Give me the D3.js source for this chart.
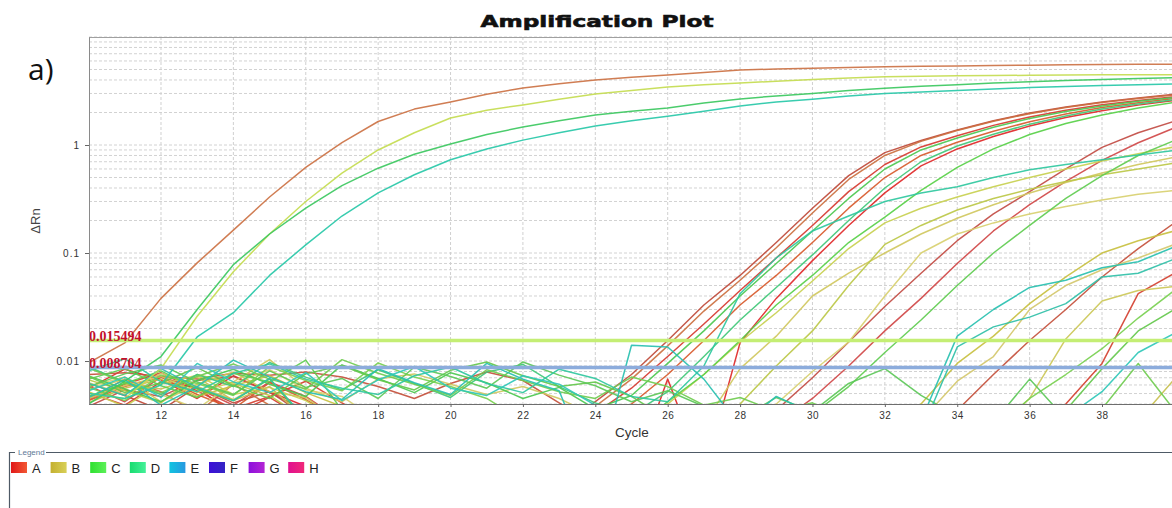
<!DOCTYPE html>
<html>
<head>
<meta charset="utf-8">
<script src="https://d3js.org/d3.v7.min.js"></script>
<style>
  html, body { margin: 0; padding: 0; background: #fff; }
  svg { display: block; }
</style>
</head>
<body>
<svg id="chart" width="1172" height="508"></svg>
<script>
// ---- data ----------------------------------------------------------------
const cycles = [10,11,12,13,14,15,16,17,18,19,20,21,22,23,24,25,26,27,28,29,30,31,32,33,34,35,36,37,38,39,40];
const xTickValues = [12,14,16,18,20,22,24,26,28,30,32,34,36,38];
const yTickValues = [0.01, 0.1, 1];
const thresholds = [0.015494, 0.008704];
const legendNames = ["A","B","C","D","E","F","G","H"];

// group A wells (red / brown)
const a1  = [0.0096,0.0147,0.038,0.081,0.163,0.33,0.62,1.05,1.65,2.15,2.5,2.95,3.37,3.7,4.0,4.25,4.45,4.7,4.95,5.05,5.15,5.22,5.3,5.35,5.4,5.45,5.48,5.52,5.55,5.58,5.6];
const a2  = [0.0062,0.0048,0.0035,0.0058,0.0041,0.0052,0.0031,0.0026,0.0022,0.0028,0.0024,0.0021,0.0027,0.0025,0.0042,0.0075,0.0155,0.033,0.062,0.125,0.26,0.52,0.85,1.1,1.38,1.68,1.98,2.25,2.5,2.72,2.95];
const a3  = [0.0045,0.0068,0.0052,0.0033,0.0061,0.0039,0.0027,0.0023,0.0029,0.0022,0.0026,0.0021,0.0024,0.0028,0.0038,0.0068,0.0138,0.029,0.056,0.112,0.235,0.48,0.8,1.08,1.36,1.66,1.95,2.22,2.47,2.7,2.9];
const a4  = [0.0051,0.0039,0.0064,0.0057,0.0032,0.0046,0.0029,0.0024,0.0021,0.0027,0.0023,0.0025,0.0022,0.0026,0.0033,0.0056,0.011,0.022,0.045,0.09,0.18,0.37,0.66,0.96,1.22,1.52,1.82,2.1,2.36,2.58,2.8];
const a5  = [0.0043,0.0058,0.0071,0.0049,0.0036,0.0063,0.0044,0.0028,0.0023,0.0026,0.0021,0.0025,0.0022,0.0027,0.0024,0.004,0.0075,0.0155,0.033,0.062,0.125,0.26,0.5,0.8,1.06,1.34,1.64,1.94,2.22,2.46,2.7];
const a6  = [0.0056,0.0084,0.0067,0.0045,0.0073,0.0052,0.0038,0.0029,0.0024,0.0021,0.0025,0.0022,0.0023,0.0021,0.0019,0.0008,0.0068,0.0009,0.0148,0.038,0.085,0.18,0.36,0.64,0.92,1.2,1.5,1.8,2.08,2.34,2.58];
const a7  = [0.0038,0.0054,0.0047,0.0066,0.0072,0.0051,0.0035,0.0026,0.0022,0.0025,0.0021,0.0024,0.0022,0.0027,0.0023,0.0021,0.0024,0.0022,0.0024,0.0035,0.007,0.015,0.032,0.065,0.13,0.23,0.37,0.6,0.95,1.3,1.66];
const a8  = [0.0059,0.0042,0.0071,0.0056,0.0039,0.0064,0.0047,0.0028,0.0023,0.0021,0.0025,0.0022,0.0026,0.0021,0.0024,0.0022,0.0025,0.0021,0.0023,0.0026,0.0045,0.009,0.019,0.038,0.08,0.16,0.28,0.46,0.72,1.05,1.44];
const a9  = [0.0075,0.0078,0.0072,0.0068,0.0077,0.0074,0.0079,0.0071,0.0058,0.0045,0.0062,0.0079,0.0066,0.0041,0.0026,0.0022,0.0024,0.0021,0.0023,0.0022,0.0025,0.0021,0.0024,0.0023,0.0035,0.0075,0.0155,0.03,0.06,0.11,0.19];
const a10 = [0.0044,0.0061,0.0078,0.0053,0.0036,0.0047,0.0065,0.0041,0.0026,0.0022,0.0025,0.0021,0.0024,0.0022,0.0026,0.0023,0.0021,0.0025,0.0022,0.0024,0.0021,0.0023,0.0022,0.0025,0.0021,0.0024,0.0023,0.004,0.0095,0.042,0.065];

// group B wells (yellow / olive)
const b1 = [0.005,0.0045,0.0085,0.026,0.067,0.15,0.30,0.55,0.9,1.3,1.78,2.1,2.35,2.65,2.96,3.2,3.45,3.62,3.75,3.9,4.05,4.18,4.28,4.33,4.37,4.4,4.42,4.44,4.46,4.47,4.48];
const b2 = [0.0052,0.0038,0.0061,0.0074,0.0049,0.0057,0.0043,0.0027,0.0023,0.0026,0.0022,0.0025,0.0021,0.0024,0.0022,0.0026,0.004,0.0075,0.015,0.028,0.055,0.11,0.19,0.26,0.33,0.41,0.5,0.6,0.71,0.83,0.96];
const b3 = [0.0045,0.0059,0.0072,0.0051,0.0064,0.0103,0.0056,0.0042,0.0068,0.0076,0.0061,0.0049,0.0058,0.0045,0.0031,0.0027,0.0023,0.0026,0.0085,0.017,0.04,0.065,0.1,0.15,0.21,0.28,0.36,0.45,0.55,0.66,0.77];
const b4 = [0.0067,0.0053,0.0041,0.0075,0.0062,0.0048,0.0029,0.0024,0.0022,0.0026,0.0021,0.0025,0.0023,0.0022,0.0026,0.0021,0.0024,0.0022,0.004,0.009,0.019,0.05,0.12,0.18,0.25,0.32,0.39,0.46,0.53,0.6,0.68];
const b5 = [0.0058,0.0071,0.0049,0.0036,0.0062,0.0083,0.0054,0.0047,0.0028,0.0023,0.0021,0.0025,0.0022,0.0024,0.0021,0.0023,0.0026,0.0022,0.0024,0.004,0.008,0.015,0.04,0.1,0.15,0.19,0.23,0.27,0.31,0.35,0.38];
const b6 = [0.0041,0.0056,0.0068,0.0047,0.0059,0.0073,0.0051,0.0038,0.0026,0.0022,0.0025,0.0021,0.0023,0.0026,0.0022,0.0024,0.0021,0.0025,0.0022,0.0024,0.0021,0.0023,0.0026,0.004,0.0095,0.017,0.034,0.06,0.1,0.13,0.16];
const b7 = [0.0063,0.0049,0.0077,0.0058,0.0044,0.0069,0.0029,0.0024,0.0022,0.0026,0.0023,0.0021,0.0025,0.0022,0.0024,0.0021,0.0023,0.0026,0.0022,0.0024,0.0021,0.0023,0.0022,0.0028,0.0065,0.011,0.03,0.05,0.07,0.09,0.12];
const b8 = [0.0054,0.0068,0.0042,0.0061,0.0079,0.0052,0.0046,0.0027,0.0023,0.0025,0.0021,0.0024,0.0022,0.0026,0.0021,0.0023,0.0025,0.0022,0.0024,0.0021,0.0023,0.0022,0.0025,0.0021,0.0024,0.0022,0.0045,0.016,0.036,0.045,0.049];
const b9 = [0.0047,0.0062,0.0055,0.0071,0.0043,0.0058,0.0029,0.0024,0.0022,0.0026,0.0021,0.0025,0.0023,0.0022,0.0026,0.0021,0.0024,0.0022,0.0025,0.0021,0.0023,0.0026,0.0022,0.0024,0.0021,0.0023,0.0022,0.0025,0.0024,0.0028,0.0068];

// group C wells (green)
const c1 = [0.004,0.0065,0.011,0.03,0.078,0.15,0.26,0.42,0.61,0.82,1.02,1.25,1.47,1.68,1.9,2.05,2.2,2.45,2.67,2.85,3.0,3.2,3.35,3.5,3.62,3.75,3.85,3.95,4.05,4.12,4.2];
const c2 = [0.0073,0.0055,0.0042,0.0066,0.0084,0.0061,0.0047,0.0092,0.0069,0.0051,0.0078,0.0063,0.0045,0.0057,0.0036,0.0048,0.0095,0.019,0.04,0.08,0.16,0.32,0.6,0.9,1.16,1.46,1.76,2.04,2.3,2.54,2.76];
const c3 = [0.0088,0.0064,0.0049,0.0075,0.0058,0.0097,0.0071,0.0054,0.0083,0.0062,0.0046,0.0079,0.0093,0.0058,0.0041,0.0032,0.0052,0.011,0.024,0.048,0.096,0.2,0.4,0.7,0.98,1.26,1.56,1.86,2.15,2.4,2.62];
const c4 = [0.0047,0.0062,0.0081,0.0055,0.0043,0.0068,0.0028,0.0023,0.0026,0.0021,0.0025,0.0022,0.0024,0.0021,0.0026,0.0023,0.0042,0.0075,0.0155,0.033,0.062,0.125,0.215,0.38,0.62,0.92,1.25,1.58,1.9,2.2,2.48];
const c5 = [0.0068,0.0085,0.0059,0.0046,0.0077,0.0064,0.0102,0.0035,0.0024,0.0022,0.0026,0.0021,0.0025,0.0022,0.0024,0.0021,0.0023,0.0026,0.0022,0.0024,0.0032,0.0058,0.012,0.024,0.05,0.1,0.18,0.32,0.52,0.8,1.1];
const c6 = [0.0057,0.0043,0.0074,0.0062,0.0048,0.0089,0.0066,0.0053,0.0096,0.0071,0.0058,0.0045,0.0028,0.0023,0.0025,0.0021,0.0024,0.0022,0.0026,0.0021,0.0023,0.0025,0.0022,0.0024,0.0021,0.0023,0.0045,0.0075,0.013,0.025,0.045];
const c7 = [0.0072,0.0051,0.0063,0.0087,0.0059,0.0045,0.0076,0.0091,0.0067,0.0054,0.0082,0.0098,0.0073,0.0058,0.0064,0.0047,0.0029,0.0023,0.0021,0.0025,0.0022,0.0024,0.0021,0.0023,0.0022,0.0025,0.0023,0.0035,0.0085,0.019,0.03];
const c8 = [0.0086,0.0063,0.0051,0.0072,0.0094,0.0068,0.0055,0.0103,0.0077,0.0061,0.0048,0.0083,0.0066,0.0052,0.0045,0.0071,0.0058,0.0039,0.0046,0.0034,0.0041,0.0029,0.0036,0.0027,0.0032,0.0025,0.0029,0.0024,0.0036,0.0095,0.0035];
const c9 = [0.0058,0.0076,0.0092,0.0064,0.0049,0.0081,0.0057,0.0069,0.0045,0.0088,0.0072,0.0056,0.0098,0.0074,0.0059,0.0042,0.0053,0.0038,0.0029,0.0046,0.0034,0.0062,0.0085,0.0048,0.0031,0.0027,0.0068,0.0029,0.0024,0.0022,0.0021];

// group D / E wells (teal / cyan)
const t1 = [0.005,0.0045,0.006,0.0167,0.028,0.062,0.119,0.22,0.36,0.53,0.73,0.92,1.11,1.3,1.5,1.68,1.85,2.05,2.3,2.5,2.65,2.85,3.0,3.1,3.2,3.3,3.4,3.48,3.55,3.62,3.67];
const t2 = [0.0081,0.0105,0.0064,0.0052,0.0077,0.0094,0.0068,0.0056,0.0049,0.0073,0.0088,0.0062,0.0051,0.0084,0.0069,0.0047,0.0042,0.009,0.042,0.09,0.16,0.22,0.3,0.36,0.41,0.5,0.59,0.66,0.73,0.81,0.89];
const t3 = [0.0046,0.0067,0.0039,0.0058,0.0102,0.0071,0.0052,0.0044,0.0085,0.0063,0.0049,0.0095,0.0068,0.0053,0.0008,0.014,0.0135,0.0068,0.0025,0.0047,0.0033,0.0029,0.0024,0.0028,0.017,0.03,0.048,0.056,0.073,0.083,0.114];
const t4 = [0.0062,0.0048,0.0085,0.0057,0.0043,0.0069,0.0029,0.0024,0.0022,0.0026,0.0021,0.0025,0.0023,0.0022,0.0026,0.0021,0.0024,0.0022,0.0025,0.0021,0.0023,0.0022,0.0024,0.0022,0.0135,0.0207,0.0255,0.034,0.06,0.065,0.088];
const t5 = [0.0053,0.0071,0.0046,0.0095,0.0064,0.0051,0.0078,0.0043,0.0067,0.0089,0.0056,0.0048,0.0073,0.0061,0.0039,0.0027,0.0023,0.0021,0.0025,0.0022,0.0024,0.0021,0.0023,0.0022,0.0025,0.0021,0.0024,0.003,0.0052,0.012,0.018];

const wells = [a2,a3,a4,a5,a6,a7,a8,a9,a10,b2,b3,b4,b5,b6,b7,b8,b9,c2,c3,c4,c5,c6,c7,c8,c9,t2,t3,t4,t5,a1,b1,c1,t1];
const wellColors = [
  "#bf4a3a","#cc7040","#d63a30","#d85a2c","#e02828","#c24c44","#d04848","#c4503c","#d44030",
  "#c8d050","#d0c860","#bcc848","#d8d070","#c8c040","#d4c86c","#ccc858","#c8c050",
  "#4cc850","#40c878","#58d048","#60cc50","#78d050","#64c84c","#70cc50","#5cc858",
  "#30c8a0","#28c0b0","#30c0a8","#30c8b8",
  "#cc7244","#c4dc50","#3cc860","#28c8a8"
];
const thresholdColors = ["#c4ee74", "#8cacdc"];
const legendColors = [
  ["#e01818","#f25834"], ["#c4b030","#d8d058"], ["#2ee030","#5cf058"], ["#18dc70","#44f098"],
  ["#10c4e0","#2898e0"], ["#3c10d8","#3424c4"], ["#8c10dc","#b424d4"], ["#e01090","#f02878"]
];

// ---- layout --------------------------------------------------------------
const svg = d3.select("#chart");
const plot = { left: 89, right: 1172, top: 37, bottom: 404 };

const x = d3.scaleLinear().domain([10, 40]).range([88.6, 1174.4]);
const y = d3.scaleLog().domain([0.004, 10]).range([plot.bottom, plot.top]);

const defs = svg.append("defs");
defs.append("clipPath").attr("id", "plotClip")
  .append("rect")
  .attr("x", plot.left).attr("y", plot.top)
  .attr("width", plot.right - plot.left).attr("height", plot.bottom - plot.top);

// title
svg.append("text")
  .attr("x", 597).attr("y", 27)
  .attr("text-anchor", "middle")
  .attr("textLength", 233).attr("lengthAdjust", "spacingAndGlyphs")
  .style("font-family", "'DejaVu Sans', sans-serif")
  .style("font-weight", "bold").style("font-size", "16.5px")
  .style("fill", "#111").style("stroke", "#111").style("stroke-width", "0.6px")
  .text("Amplification Plot");

// panel tag
svg.append("text")
  .attr("x", 28).attr("y", 80)
  .style("font-family", "'Open Sans', sans-serif")
  .style("font-size", "30px").style("fill", "#111")
  .text("a)");

// grid
const grid = svg.append("g");
grid.selectAll("line.hgrid").data(y.ticks())
  .join("line").attr("class", "hgrid")
  .attr("x1", plot.left).attr("x2", plot.right)
  .attr("y1", d => y(d)).attr("y2", d => y(d))
  .attr("stroke", "#d2d2d2").attr("stroke-width", 1)
  .attr("stroke-dasharray", "3,2");
grid.selectAll("line.vgrid").data(xTickValues)
  .join("line").attr("class", "vgrid")
  .attr("x1", d => x(d)).attr("x2", d => x(d))
  .attr("y1", plot.top).attr("y2", plot.bottom)
  .attr("stroke", "#d0d0d0").attr("stroke-width", 1)
  .attr("stroke-dasharray", "3,2");

// frame top
svg.append("line")
  .attr("x1", plot.left).attr("x2", plot.right)
  .attr("y1", plot.top + 0.5).attr("y2", plot.top + 0.5)
  .attr("stroke", "#a0a0a0");

// curves
const line = d3.line()
  .x((d, i) => x(cycles[i]))
  .y(d => y(d));

svg.append("g").attr("clip-path", "url(#plotClip)")
  .selectAll("path").data(wells)
  .join("path")
  .attr("d", line)
  .attr("fill", "none")
  .attr("stroke", (d, i) => wellColors[i])
  .attr("stroke-width", 1.5)
  .attr("stroke-opacity", 0.92)
  .attr("stroke-linejoin", "round");

// threshold lines and labels
const th = svg.append("g").attr("clip-path", "url(#plotClip)");
th.selectAll("line").data(thresholds)
  .join("line")
  .attr("x1", plot.left).attr("x2", plot.right)
  .attr("y1", d => y(d)).attr("y2", d => y(d))
  .attr("stroke", (d, i) => thresholdColors[i])
  .attr("stroke-width", 3.5);
svg.selectAll("text.thlabel").data(thresholds)
  .join("text").attr("class", "thlabel")
  .attr("x", 89).attr("y", d => y(d) + 0.5)
  .style("font-family", "'Liberation Serif', 'Times New Roman', serif")
  .style("font-weight", "bold").style("font-size", "14px")
  .style("fill", "#c2102c")
  .text(d => d3.format(".6f")(d));

// axes
const yAxis = svg.append("g")
  .attr("transform", `translate(${plot.left},0)`)
  .call(d3.axisLeft(y).tickValues(yTickValues).tickFormat(d3.format("~g"))
    .tickSize(4).tickSizeOuter(0).tickPadding(5));
yAxis.select(".domain").attr("stroke", "#8a8a8a");
yAxis.selectAll(".tick line").attr("stroke", "#666");
yAxis.selectAll(".tick text")
  .style("font-family", "'Liberation Sans', Arial, sans-serif")
  .style("font-size", "10px").style("letter-spacing", "1px").style("fill", "#333");

const xAxis = svg.append("g")
  .attr("transform", `translate(0,${plot.bottom})`)
  .call(d3.axisBottom(x).tickValues(xTickValues).tickFormat(d3.format("d"))
    .tickSize(3).tickSizeOuter(0).tickPadding(5));
xAxis.select(".domain").attr("stroke", "#6e6e6e");
xAxis.selectAll(".tick line").attr("stroke", "#666");
xAxis.selectAll(".tick text")
  .style("font-family", "'Liberation Sans', Arial, sans-serif")
  .style("font-size", "10px").style("letter-spacing", "0.5px").style("fill", "#333");

// axis titles
svg.append("text")
  .attr("x", 632).attr("y", 437)
  .attr("text-anchor", "middle")
  .style("font-family", "'Liberation Sans', Arial, sans-serif")
  .style("font-size", "13.5px").style("fill", "#333")
  .text("Cycle");
svg.append("text")
  .attr("transform", "translate(40,221) rotate(-90)")
  .attr("text-anchor", "middle")
  .style("font-family", "'Liberation Sans', Arial, sans-serif")
  .style("font-size", "13px").style("fill", "#444")
  .text("\u0394Rn");

// legend
legendColors.forEach((c, i) => {
  const g = defs.append("linearGradient").attr("id", "lg" + i)
    .attr("x1", "0%").attr("x2", "100%").attr("y1", "0%").attr("y2", "0%");
  g.append("stop").attr("offset", "0%").attr("stop-color", c[0]);
  g.append("stop").attr("offset", "100%").attr("stop-color", c[1]);
});

const legend = svg.append("g");
legend.append("path")
  .attr("d", "M15,452.5 H9.5 V520 M46,452.5 H1180")
  .attr("fill", "none").attr("stroke", "#4e5a66").attr("stroke-width", 1.2);
legend.append("text")
  .attr("x", 18).attr("y", 455)
  .style("font-family", "'Liberation Sans', Arial, sans-serif")
  .style("font-size", "8px").style("fill", "#5d7896")
  .text("Legend");

const items = legend.selectAll("g.item").data(legendNames)
  .join("g").attr("class", "item")
  .attr("transform", (d, i) => `translate(${11 + i * 39.6},462)`);
items.append("rect")
  .attr("width", 16).attr("height", 11)
  .attr("fill", (d, i) => `url(#lg${i})`);
items.append("text")
  .attr("x", 21).attr("y", 11)
  .style("font-family", "'Liberation Sans', Arial, sans-serif")
  .style("font-size", "13px").style("fill", "#222")
  .text(d => d);
</script>
</body>
</html>
